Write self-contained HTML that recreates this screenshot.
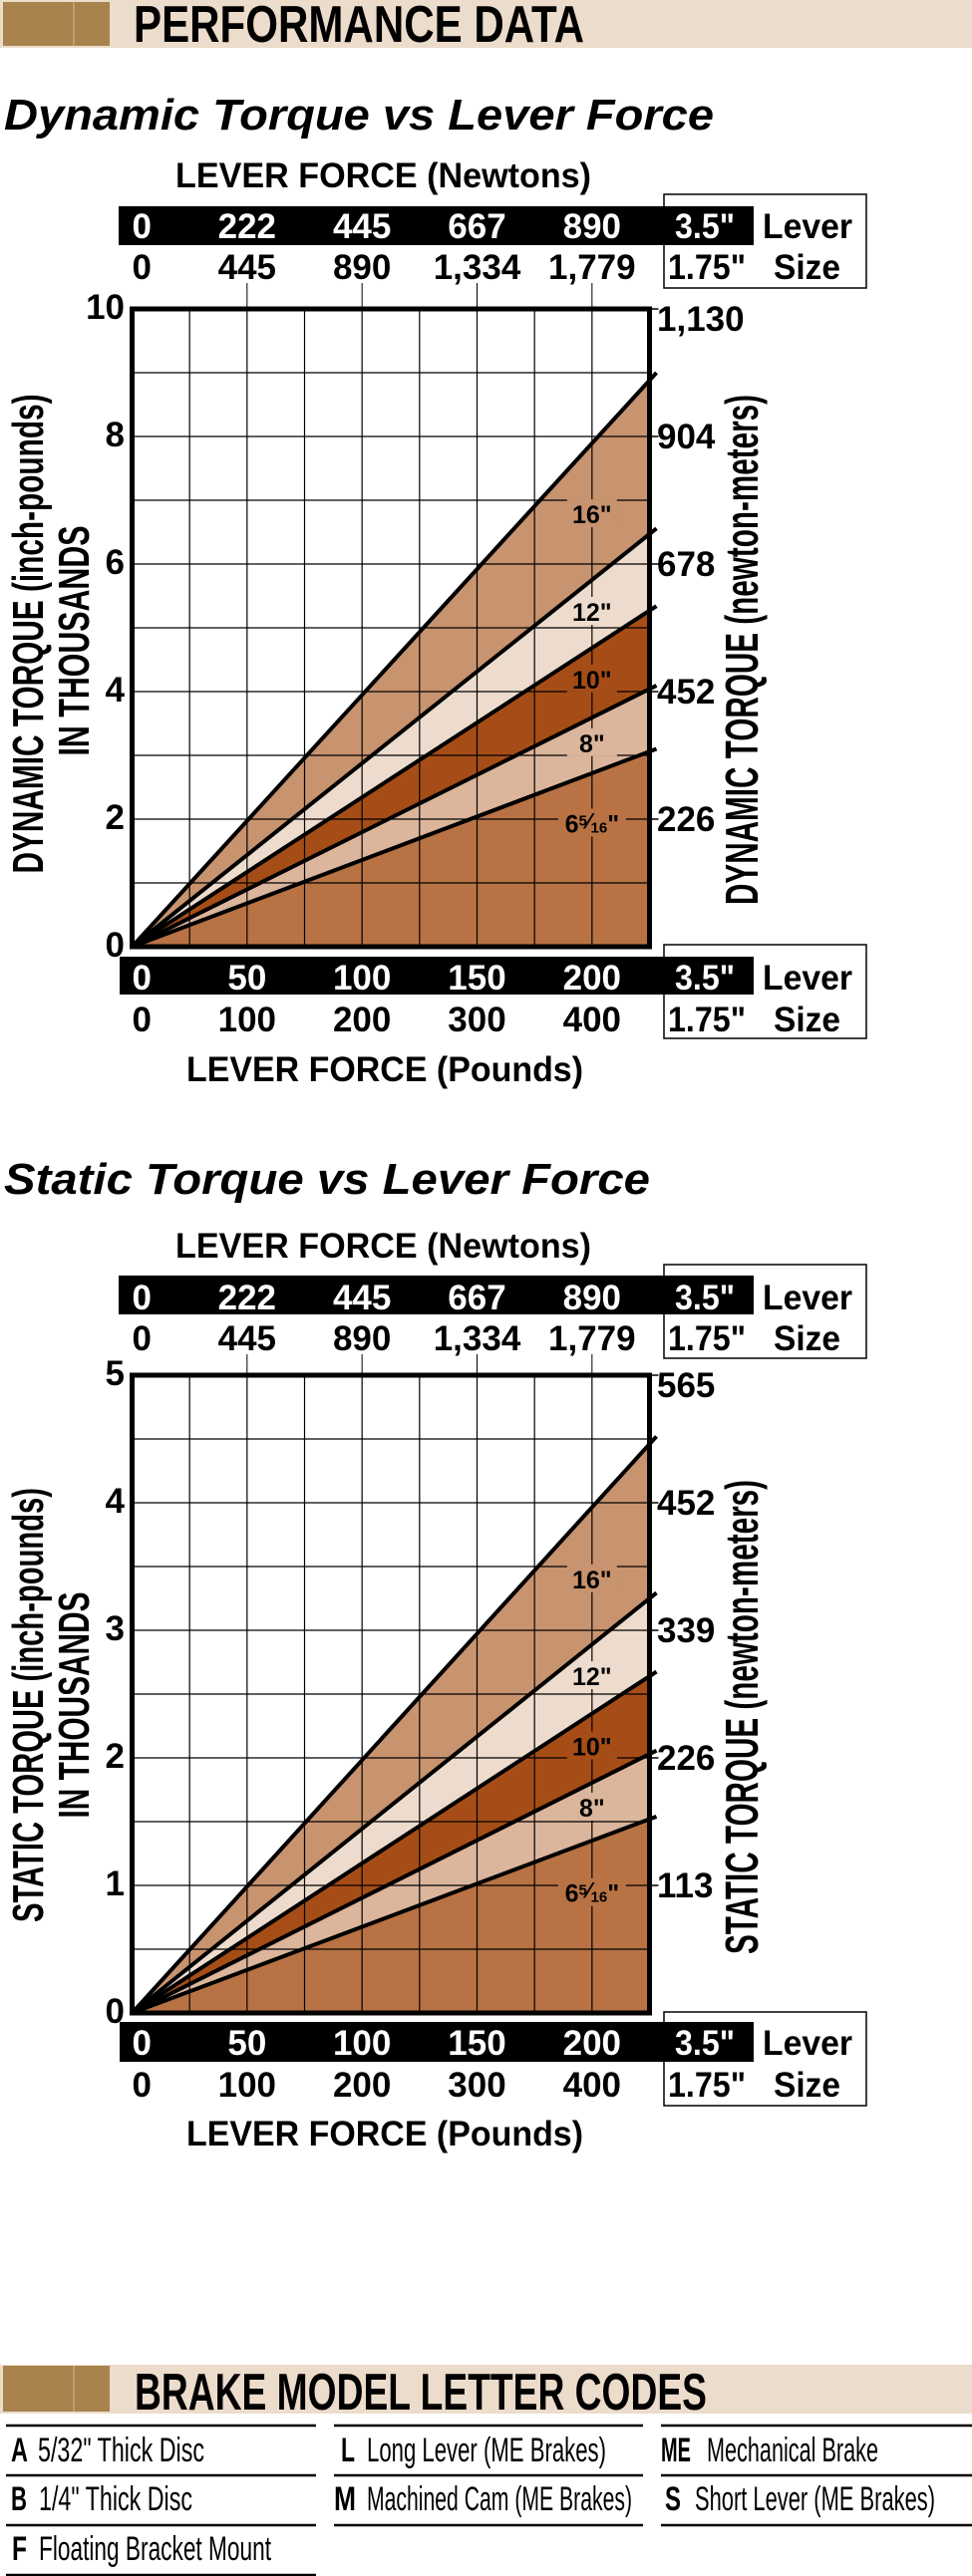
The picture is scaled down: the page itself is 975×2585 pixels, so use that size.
<!DOCTYPE html>
<html><head><meta charset="utf-8"><title>Performance Data</title>
<style>
html,body{margin:0;padding:0;background:#fff;}
svg{display:block;}
text{font-family:"Liberation Sans",sans-serif;}
</style></head>
<body>
<svg id="page" xmlns="http://www.w3.org/2000/svg" width="975" height="2585" viewBox="0 0 975 2585">
  <g>
    <rect x="0" y="0" width="975" height="48" fill="#ecdccb"/>
    <rect x="3" y="2" width="107" height="44" fill="#a8834d"/>
    <line x1="74" y1="2" x2="74" y2="46" stroke="#c9a878" stroke-width="1.5"/>
    <text x="134" y="42" font-size="52" font-weight="bold" textLength="452" lengthAdjust="spacingAndGlyphs">PERFORMANCE DATA</text>
  </g>
  <g id="chart1"></g>
  <g id="chart2"></g>
  <g>
    <rect x="0" y="2373" width="975" height="49" fill="#ecdccb"/>
    <rect x="3" y="2374" width="107" height="46" fill="#a8834d"/>
    <line x1="74" y1="2374" x2="74" y2="2420" stroke="#c9a878" stroke-width="1.5"/>
    <text x="135" y="2418" font-size="52" font-weight="bold" textLength="574" lengthAdjust="spacingAndGlyphs">BRAKE MODEL LETTER CODES</text>
    <g stroke="#000" stroke-width="2.5">
      <line x1="6" y1="2434" x2="317" y2="2434"/><line x1="6" y1="2484" x2="317" y2="2484"/><line x1="6" y1="2534" x2="317" y2="2534"/><line x1="6" y1="2584" x2="317" y2="2584"/>
      <line x1="335" y1="2434" x2="645" y2="2434"/><line x1="335" y1="2484" x2="645" y2="2484"/><line x1="335" y1="2534" x2="645" y2="2534"/>
      <line x1="663" y1="2434" x2="975" y2="2434"/><line x1="663" y1="2484" x2="975" y2="2484"/><line x1="663" y1="2534" x2="975" y2="2534"/>
    </g>
    <g font-size="34">
      <text x="11" y="2470" font-weight="bold" textLength="17" lengthAdjust="spacingAndGlyphs">A</text>
      <text x="38" y="2470" textLength="167" lengthAdjust="spacingAndGlyphs">5/32" Thick Disc</text>
      <text x="11" y="2519" font-weight="bold" textLength="16" lengthAdjust="spacingAndGlyphs">B</text>
      <text x="39" y="2519" textLength="154" lengthAdjust="spacingAndGlyphs">1/4" Thick Disc</text>
      <text x="12" y="2569" font-weight="bold" textLength="15" lengthAdjust="spacingAndGlyphs">F</text>
      <text x="39" y="2569" textLength="233" lengthAdjust="spacingAndGlyphs">Floating Bracket Mount</text>
      <text x="342" y="2470" font-weight="bold" textLength="14" lengthAdjust="spacingAndGlyphs">L</text>
      <text x="368" y="2470" textLength="240" lengthAdjust="spacingAndGlyphs">Long Lever (ME Brakes)</text>
      <text x="335" y="2519" font-weight="bold" textLength="22" lengthAdjust="spacingAndGlyphs">M</text>
      <text x="368" y="2519" textLength="266" lengthAdjust="spacingAndGlyphs">Machined Cam (ME Brakes)</text>
      <text x="663" y="2470" font-weight="bold" textLength="30" lengthAdjust="spacingAndGlyphs">ME</text>
      <text x="709" y="2470" textLength="172" lengthAdjust="spacingAndGlyphs">Mechanical Brake</text>
      <text x="667" y="2519" font-weight="bold" textLength="16" lengthAdjust="spacingAndGlyphs">S</text>
      <text x="697" y="2519" textLength="241" lengthAdjust="spacingAndGlyphs">Short Lever (ME Brakes)</text>
    </g>
  </g>
</svg>
<script>
// ---- data ----
const leverSizes = ['16"', '12"', '10"', '8"', '6 5/16"'];
const dynamicEnd = [8.88, 6.47, 5.27, 4.04, 3.06];
const staticEnd = [4.46, 3.25, 2.64, 2.03, 1.52];
const dynamicLabelY = [6.78, 5.25, 4.19, 3.19, 1.93];
const staticLabelY = [3.40, 2.64, 2.09, 1.61, 0.94];
const bandColors = ['#c8936f', '#eddccd', '#a64d17', '#dbb59c', '#b87244'];
const poundsTop = ['0', '50', '100', '150', '200'];
const poundsBottom = ['0', '100', '200', '300', '400'];
const poundsTickVals = [0, 50, 100, 150, 200];
const newtonsTop = ['0', '222', '445', '667', '890'];
const newtonsBottom = ['0', '445', '890', '1,334', '1,779'];
const dynamicYTicks = [0, 2, 4, 6, 8, 10];
const dynamicYLabels = ['0', '2', '4', '6', '8', '10'];
const dynamicNmVals = [2, 4, 6, 8, 10];
const dynamicNmLabels = ['226', '452', '678', '904', '1,130'];
const staticYTicks = [0, 1, 2, 3, 4, 5];
const staticYLabels = ['0', '1', '2', '3', '4', '5'];
const staticNmVals = [1, 2, 3, 4, 5];
const staticNmLabels = ['113', '226', '339', '452', '565'];
const xMax = 225;
const labelX = 200;

const NS = 'http://www.w3.org/2000/svg';
function mk(parent, tag, attrs, txt) {
  const e = document.createElementNS(NS, tag);
  for (const k in attrs) e.setAttribute(k, attrs[k]);
  if (txt !== undefined) e.textContent = txt;
  parent.appendChild(e);
  return e;
}

function drawChart(g, L, ends, labelYs, yMax, yStep, yTicks, yLabels, nmVals, nmLabels, title, leftTitle, rightTitle) {
  const X0 = 132.5, X1 = 651.5, Y0 = L.plotBottom, Y1 = L.plotTop;
  const sx = v => X0 + (v / xMax) * (X1 - X0);
  const sy = v => Y0 - (v / yMax) * (Y0 - Y1);

  let t = mk(g, 'text', {x: 4, y: L.title, 'font-size': 44, 'font-weight': 'bold', 'font-style': 'italic', textLength: L.titleW, lengthAdjust: 'spacingAndGlyphs'}, title);
  
  
  t = mk(g, 'text', {x: 176, y: L.newtons, 'font-size': 35, 'font-weight': 'bold', textLength: 417, lengthAdjust: 'spacingAndGlyphs'}, 'LEVER FORCE (Newtons)');
  
  

  // top scale
  let r = mk(g, 'rect', {x: 666, y: L.topBox, width: 203, height: L.topBoxH, fill: 'none', stroke: '#000', 'stroke-width': 1.5});
  
  
  r = mk(g, 'rect', {x: 119, y: L.topBar, width: 637, height: L.topBarH, fill: '#000'});
  
  
  poundsTickVals.forEach((v, i) => {
    const x = i === 0 ? X0 : sx(v);
    const anchor = i === 0 ? 'start' : 'middle';
    let a = mk(g, 'text', {x: x, y: L.topBarBase, 'font-size': 35, 'font-weight': 'bold', fill: '#fff', 'text-anchor': anchor}, newtonsTop[i]);
    
    
    a = mk(g, 'text', {x: x, y: L.topRow2, 'font-size': 35, 'font-weight': 'bold', 'text-anchor': anchor}, newtonsBottom[i]);
    
    
    if (i > 0) {
      const tk = mk(g, 'line', {x1: x, y1: L.topRow2 + 4, x2: x, y2: Y1, stroke: '#000', 'stroke-width': 1});
      
      
    }
  });
  t = mk(g, 'text', {x: 677, y: L.topBarBase, 'font-size': 35, 'font-weight': 'bold', fill: '#fff', textLength: 60, lengthAdjust: 'spacingAndGlyphs'}, '3.5"');
  
  
  t = mk(g, 'text', {x: 670, y: L.topRow2, 'font-size': 35, 'font-weight': 'bold', textLength: 78, lengthAdjust: 'spacingAndGlyphs'}, '1.75"');
  
  
  t = mk(g, 'text', {x: 765, y: L.topBarBase, 'font-size': 35, 'font-weight': 'bold', textLength: 90, lengthAdjust: 'spacingAndGlyphs'}, 'Lever');
  
  
  t = mk(g, 'text', {x: 776, y: L.topRow2, 'font-size': 35, 'font-weight': 'bold', textLength: 67, lengthAdjust: 'spacingAndGlyphs'}, 'Size');
  
  

  // plot background
  mk(g, 'rect', {x: X0, y: Y1, width: X1 - X0, height: Y0 - Y1, fill: '#fff'});
  // bands (largest first)
  ends.forEach((v, i) => {
    const p = mk(g, 'polygon', {points: `${X0},${Y0} ${X1},${sy(v)} ${X1},${Y0}`, fill: bandColors[i]});
    
    
  });
  // grid
  for (let c = 1; c < 9; c++) {
    const x = X0 + c * (X1 - X0) / 9;
    const gl = mk(g, 'line', {x1: x, y1: Y1, x2: x, y2: Y0, stroke: '#000', 'stroke-width': 1.2});
    
    
  }
  for (let v = yStep; v < yMax; v += yStep) {
    const gl = mk(g, 'line', {x1: X0, y1: sy(v), x2: X1, y2: sy(v), stroke: '#000', 'stroke-width': 1.2});
    
    
  }
  // band labels with background
  leverSizes.forEach((s, i) => {
    const x = sx(labelX), y = sy(labelYs[i]);
    const bw = i === 4 ? 68 : 50;
    const bg = mk(g, 'rect', {x: x - bw / 2, y: y - 15, width: bw, height: 28, fill: bandColors[i]});
    
    
    let lt;
    if (i === 4) {
      lt = mk(g, 'text', {x: x, y: y + 9, 'font-size': 25, 'font-weight': 'bold', 'text-anchor': 'middle'});
      mk(lt, 'tspan', {}, '6');
      mk(lt, 'tspan', {'font-size': 15, dy: -7}, '5');
      mk(lt, 'tspan', {'font-size': 22, dy: 3}, '⁄');
      mk(lt, 'tspan', {'font-size': 15, dy: 4}, '16');
      mk(lt, 'tspan', {dy: 0}, '"');
    } else {
      lt = mk(g, 'text', {x: x, y: y + 9, 'font-size': 25, 'font-weight': 'bold', 'text-anchor': 'middle'}, s);
    }
    
    
  });
  // lines
  ends.forEach((v, i) => {
    const yEnd = sy(v);
    const slope = (yEnd - Y0) / (X1 - X0);
    const ln = mk(g, 'line', {x1: X0, y1: Y0, x2: X1 + 7, y2: yEnd + slope * 7, stroke: '#000', 'stroke-width': 4});
    
    
  });
  // border
  mk(g, 'path', {d: `M${X1},${Y1} L${X0},${Y1} L${X0},${Y0} L${X1},${Y0}`, fill: 'none', stroke: '#000', 'stroke-width': 5});
  mk(g, 'line', {x1: X1, y1: Y1 - 2.5, x2: X1, y2: Y0 + 2.5, stroke: '#000', 'stroke-width': 5});

  // left y labels
  yTicks.forEach((v, i) => {
    const yl = mk(g, 'text', {x: 125, y: sy(v) + 10, 'font-size': 35, 'font-weight': 'bold', 'text-anchor': 'end'}, yLabels[i]);
    
    
  });
  // right labels
  nmVals.forEach((v, i) => {
    const y = sy(v);
    const tk = mk(g, 'line', {x1: X1, y1: y, x2: X1 + 9, y2: y, stroke: '#000', 'stroke-width': 1.5});
    
    
    const off = (i === nmVals.length - 1) ? 22 : 12;
    const yl = mk(g, 'text', {x: 659, y: y + off, 'font-size': 35, 'font-weight': 'bold'}, nmLabels[i]);
    
    
  });
  // axis titles
  let lt1 = mk(g, 'text', {x: 0, y: 0, 'font-size': 44, 'font-weight': 'bold', 'text-anchor': 'middle', textLength: L.left1W, lengthAdjust: 'spacingAndGlyphs', transform: `translate(43,${L.left1C}) rotate(-90)`}, leftTitle);
  
  
  let lt2 = mk(g, 'text', {x: 0, y: 0, 'font-size': 44, 'font-weight': 'bold', 'text-anchor': 'middle', textLength: L.left2W, lengthAdjust: 'spacingAndGlyphs', transform: `translate(89,${L.left2C}) rotate(-90)`}, 'IN THOUSANDS');
  
  
  let rt = mk(g, 'text', {x: 0, y: 0, 'font-size': 46, 'font-weight': 'bold', 'text-anchor': 'middle', textLength: L.rightW, lengthAdjust: 'spacingAndGlyphs', transform: `translate(760,${L.rightC}) rotate(-90)`}, rightTitle);
  
  

  // bottom scale
  r = mk(g, 'rect', {x: 666, y: L.botBox, width: 203, height: L.botBoxH, fill: 'none', stroke: '#000', 'stroke-width': 1.5});
  
  
  r = mk(g, 'rect', {x: 120, y: L.botBar, width: 636, height: L.botBarH, fill: '#000'});
  
  
  poundsTickVals.forEach((v, i) => {
    const x = i === 0 ? X0 : sx(v);
    const anchor = i === 0 ? 'start' : 'middle';
    let a = mk(g, 'text', {x: x, y: L.botBarBase, 'font-size': 35, 'font-weight': 'bold', fill: '#fff', 'text-anchor': anchor}, poundsTop[i]);
    
    
    a = mk(g, 'text', {x: x, y: L.botRow2, 'font-size': 35, 'font-weight': 'bold', 'text-anchor': anchor}, poundsBottom[i]);
    
    
  });
  t = mk(g, 'text', {x: 677, y: L.botBarBase, 'font-size': 35, 'font-weight': 'bold', fill: '#fff', textLength: 60, lengthAdjust: 'spacingAndGlyphs'}, '3.5"');
  
  
  t = mk(g, 'text', {x: 670, y: L.botRow2, 'font-size': 35, 'font-weight': 'bold', textLength: 78, lengthAdjust: 'spacingAndGlyphs'}, '1.75"');
  
  
  t = mk(g, 'text', {x: 765, y: L.botBarBase, 'font-size': 35, 'font-weight': 'bold', textLength: 90, lengthAdjust: 'spacingAndGlyphs'}, 'Lever');
  
  
  t = mk(g, 'text', {x: 776, y: L.botRow2, 'font-size': 35, 'font-weight': 'bold', textLength: 67, lengthAdjust: 'spacingAndGlyphs'}, 'Size');
  
  
  t = mk(g, 'text', {x: 187, y: L.pounds, 'font-size': 35, 'font-weight': 'bold', textLength: 398, lengthAdjust: 'spacingAndGlyphs'}, 'LEVER FORCE (Pounds)');
  
  
}

const layout1 = {title: 130, titleW: 712, newtons: 188, topBox: 195, topBoxH: 94, topBar: 207, topBarH: 39, topBarBase: 239, topRow2: 280,
  plotTop: 310, plotBottom: 950, botBox: 948, botBoxH: 94, botBar: 960, botBarH: 38, botBarBase: 993, botRow2: 1035, pounds: 1085,
  left1C: 636, left1W: 481, left2C: 643, left2W: 231, rightC: 652, rightW: 512};
const layout2 = {title: 1198, titleW: 648, newtons: 1262, topBox: 1269, topBoxH: 94, topBar: 1280, topBarH: 39, topBarBase: 1314, topRow2: 1355,
  plotTop: 1380, plotBottom: 2020, botBox: 2019, botBoxH: 94, botBar: 2029, botBarH: 40, botBarBase: 2062, botRow2: 2104, pounds: 2153,
  left1C: 1711, left1W: 436, left2C: 1711, left2W: 227, rightC: 1723, rightW: 476};

drawChart(document.getElementById('chart1'), layout1, dynamicEnd, dynamicLabelY, 10, 1, dynamicYTicks, dynamicYLabels, dynamicNmVals, dynamicNmLabels,
  'Dynamic Torque vs Lever Force', 'DYNAMIC TORQUE (inch-pounds)', 'DYNAMIC TORQUE (newton-meters)');
drawChart(document.getElementById('chart2'), layout2, staticEnd, staticLabelY, 5, 0.5, staticYTicks, staticYLabels, staticNmVals, staticNmLabels,
  'Static Torque vs Lever Force', 'STATIC TORQUE (inch-pounds)', 'STATIC TORQUE (newton-meters)');
</script>
</body></html>
